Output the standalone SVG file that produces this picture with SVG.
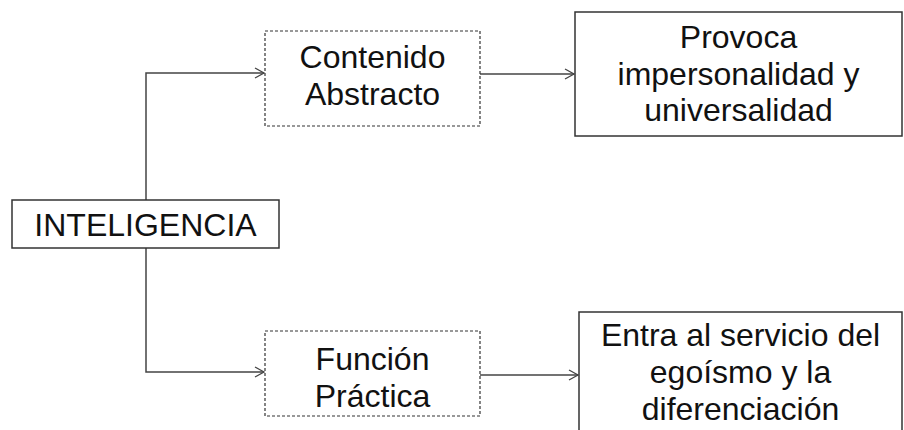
<svg xmlns="http://www.w3.org/2000/svg" width="904" height="430" viewBox="0 0 904 430">
<style>
text{font-family:"Liberation Sans",Arial,sans-serif;font-size:32px;fill:#111;text-anchor:middle}
.solid{fill:#fff;stroke:#333;stroke-width:1.5}
.dash{fill:#fff;stroke:#333;stroke-width:1.2;stroke-dasharray:3 2}
.conn{fill:none;stroke:#444;stroke-width:1.5}
</style>
<defs>
<marker id="arr" markerWidth="12" markerHeight="12" refX="10" refY="6" orient="auto" markerUnits="userSpaceOnUse">
<path d="M1,1 L10,6 L1,11" fill="none" stroke="#444" stroke-width="1.3"/>
</marker>
</defs>
<rect width="904" height="430" fill="#fff"/>
<g id="connectors">
<path class="conn" d="M146,200 V73 H264" marker-end="url(#arr)"/>
<path class="conn" d="M146,248 V372 H264" marker-end="url(#arr)"/>
<path class="conn" d="M480,74 H574" marker-end="url(#arr)"/>
<path class="conn" d="M480,375 H578" marker-end="url(#arr)"/>
</g>
<g id="inteligencia">
<rect class="solid" x="12" y="200" width="267" height="48"/>
<text x="145.5" y="235.5">INTELIGENCIA</text>
</g>
<g id="contenido">
<rect class="dash" x="265" y="31" width="215" height="95"/>
<text x="372.5" y="68">Contenido</text>
<text x="372.5" y="105">Abstracto</text>
</g>
<g id="provoca">
<rect class="solid" x="575" y="12" width="327" height="124"/>
<text x="738.5" y="48">Provoca</text>
<text x="738.5" y="85">impersonalidad y</text>
<text x="738.5" y="121">universalidad</text>
</g>
<g id="funcion">
<rect class="dash" x="265" y="331" width="215" height="85"/>
<text x="372.5" y="370">Función</text>
<text x="372.5" y="407">Práctica</text>
</g>
<g id="entra">
<rect class="solid" x="579" y="312" width="323" height="130"/>
<text x="740.5" y="346">Entra al servicio del</text>
<text x="740.5" y="383">egoísmo y la</text>
<text x="740.5" y="420">diferenciación</text>
</g>
</svg>
